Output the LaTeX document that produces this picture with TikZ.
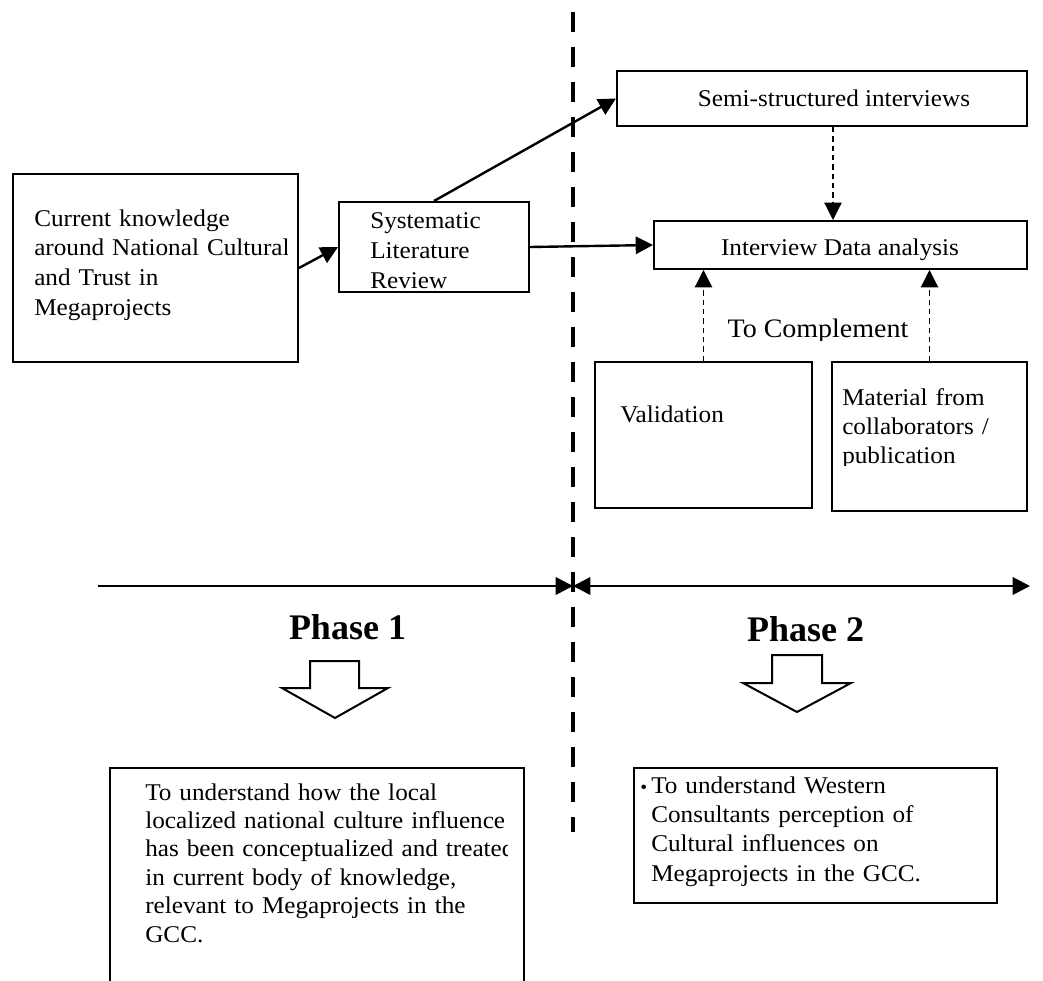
\documentclass[tikz,border=0pt]{standalone}
\usepackage{fontspec}
\setmainfont{Liberation Serif}[FakeStretch=1.05]
\newfontfamily\headfont{Liberation Serif}
\usetikzlibrary{arrows.meta}

\begin{document}
\begin{tikzpicture}[x=0.75pt,y=-0.75pt,
  box/.style={draw, line width=1.5pt, inner sep=0pt},
  body/.style={inner sep=0pt, font=\fontsize{18}{22}\selectfont},
  txt/.style={body, anchor=base west, align=left, text width=400pt},
  arr/.style={line width=1.8pt, -{Triangle[length=13pt,width=13pt]}},
  darr/.style={line width=0.9pt, dash pattern=on 4pt off 3pt, -{Triangle[length=13pt,width=13pt]}},
  axis/.style={line width=2pt},
  blockarrow/.style={draw, line width=1.5pt, line join=miter, fill=white},
  phase/.style={inner sep=0pt, anchor=base, font=\headfont\bfseries\fontsize{27}{30}\selectfont}
]
\useasboundingbox (0,0) rectangle (1043,981);
\clip (0,0) rectangle (1043,981);

% boxes
\node[box, minimum width={285*0.75pt}, minimum height={188*0.75pt}] (know) at (155.5,268) {};
\node[box, minimum width={190*0.75pt}, minimum height={90*0.75pt}] (slr) at (434,247) {};
\node[box, minimum width={410*0.75pt}, minimum height={55*0.75pt}] (semi) at (822,98.5) {};
\node[box, minimum width={373*0.75pt}, minimum height={48*0.75pt}] (ida) at (840.5,245) {};
\node[box, minimum width={217*0.75pt}, minimum height={146*0.75pt}] (valid) at (703.5,435) {};
\node[box, minimum width={195*0.75pt}, minimum height={149*0.75pt}] (mat) at (929.5,436.5) {};
\node[box, minimum width={414*0.75pt}, minimum height={260*0.75pt}] (aim1) at (317,898) {};
\node[box, minimum width={363*0.75pt}, minimum height={135*0.75pt}] (aim2) at (815.5,835.5) {};

% box texts
\begin{scope}
  \clip (14,175) rectangle (287,361);
  \node[txt, font=\fontsize{18}{22.3}\selectfont] (knowtext) at (34,226)
    {Current knowledge\\around National Cultural\\and Trust in\\Megaprojects};
\end{scope}
\node[txt, font=\fontsize{18}{22.5}\selectfont] (slrtext) at (370,228) {Systematic\\Literature\\Review};
\node[body, anchor=base] (semitext) at (834,107) {Semi-structured interviews};
\node[body, anchor=base] (idatext) at (840,255) {Interview Data analysis};
\node[txt] (validtext) at (620,422) {Validation};
\begin{scope}
  \clip (833,363) rectangle (1026,465);
  \node[txt, font=\fontsize{18}{21.75}\selectfont] (mattext) at (842,405)
    {Material from\\collaborators /\\publication};
\end{scope}
\begin{scope}
  \clip (111,769) rectangle (507,981);
  \node[txt, font=\fontsize{18}{21.3}\selectfont] (aim1text) at (145,800)
    {To understand how the local\\localized national culture influence\\has been conceptualized and treated\\in current body of knowledge,\\relevant to Megaprojects in the\\GCC.};
\end{scope}
\node[inner sep=0pt, anchor=base west, font=\fontsize{14}{16}\selectfont] (bullet) at (640,793) {•};
\node[txt, font=\fontsize{18}{22}\selectfont] (aim2text) at (651,793)
  {To understand Western\\Consultants perception of\\Cultural influences on\\Megaprojects in the GCC.};

\begin{scope}
  \clip (690,300) rectangle (960,340);
  \node[inner sep=0pt, anchor=base, font=\fontsize{20}{22}\selectfont] (compl) at (818,337) {To Complement};
\end{scope}

% connectors
\draw[arr] (know.east) -- (slr.west);
\draw[arr] (slr.north) -- (semi.west);
\draw[arr] (slr.east) -- (ida.west);
\coordinate (semidrop) at (833,0);
\draw[darr] (semi.south -| semidrop) -- (ida.north -| semidrop);
\draw[darr] (valid.north) -- (valid.north |- ida.south);
\draw[darr] (mat.north) -- (mat.north |- ida.south);

% time axis
\coordinate (axL) at (98,586);
\coordinate (axM) at (573,586);
\coordinate (axR) at (1030,586);
\draw[axis, -{Triangle[length=13pt,width=13pt]}] (axL) -- (axM);
\draw[axis, {Triangle[length=13pt,width=13pt]}-{Triangle[length=13pt,width=13pt]}] (axM) -- (axR);

% phases
\node[phase] (ph1) at (347.5,639) {Phase 1};
\node[phase] (ph2) at (805.5,641) {Phase 2};
\draw[blockarrow] (310,661) -- (359,661) -- (359,688) -- (388,688) -- (335,718) -- (282,688) -- (310,688) -- cycle;
\draw[blockarrow] (772,655) -- (822,655) -- (822,683) -- (851,683) -- (797,712) -- (743,683) -- (772,683) -- cycle;

% phase divider
\coordinate (divT) at (573,12);
\coordinate (divB) at (573,832);
\draw[line width=3pt, dash pattern=on 15pt off 11.25pt] (divT) -- (divB);
\end{tikzpicture}
\end{document}
